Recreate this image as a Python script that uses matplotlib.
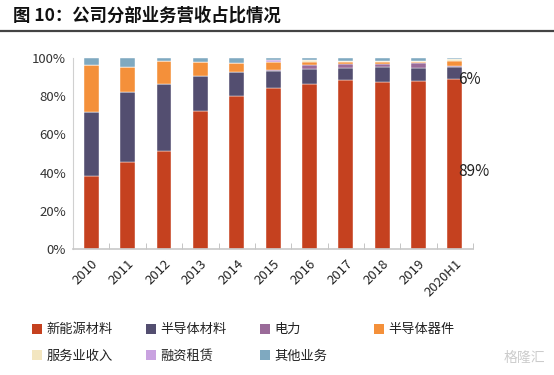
import matplotlib
matplotlib.use("Agg")
import matplotlib.pyplot as plt
import numpy as np
from matplotlib.patches import Patch
from matplotlib.lines import Line2D

plt.rcParams['font.family'] = ['Noto Sans CJK SC', 'DejaVu Sans']

years = ['2010', '2011', '2012', '2013', '2014', '2015', '2016', '2017', '2018', '2019', '2020H1']

# share of revenue by segment, in %
new_energy = [38.0, 45.5, 51.6, 72.4, 79.9, 84.6, 86.7, 88.8, 87.7, 88.1, 89.2]
semi_material = [33.7, 37.0, 34.8, 18.2, 12.6, 8.8, 7.5, 6.0, 7.6, 6.7, 6.1]
power = [0.0, 0.0, 0.0, 0.0, 0.0, 0.4, 2.4, 2.2, 1.7, 2.6, 0.5]
semi_device = [24.8, 12.8, 12.2, 7.4, 5.0, 4.2, 1.4, 0.8, 0.8, 0.6, 2.9]
service = [0.0, 0.0, 0.0, 0.0, 0.0, 0.0, 1.0, 0.6, 0.5, 0.5, 0.7]
leasing = [0.0, 0.0, 0.0, 0.0, 0.0, 1.2, 0.0, 0.0, 0.0, 0.0, 0.0]
other = [3.5, 4.7, 1.4, 2.0, 2.5, 0.8, 1.0, 1.6, 1.7, 1.5, 0.6]

series = [
    ('新能源材料', new_energy, '#C5411F'),
    ('半导体材料', semi_material, '#534E70'),
    ('电力', power, '#9A6B99'),
    ('半导体器件', semi_device, '#F4903A'),
    ('服务业收入', service, '#F3E6C0'),
    ('融资租赁', leasing, '#C9A2E0'),
    ('其他业务', other, '#7FA9C0'),
]

fig = plt.figure(figsize=(5.54, 3.75), dpi=100)
ax = fig.add_axes([0.132, 0.336, 0.722, 0.509])

x = np.arange(len(years))
bottom = np.zeros(len(years))
for name, vals, color in series:
    v = np.array(vals) / 100.0
    ax.bar(x, v, 0.41, bottom=bottom, color=color, edgecolor='white', linewidth=0.3)
    bottom += v

ax.set_xlim(-0.5, len(years) - 0.5)
ax.set_ylim(0, 1.0)
ax.set_yticks(np.arange(0, 1.01, 0.2))
ax.set_yticklabels([f'{int(round(t * 100))}%' for t in np.arange(0, 1.01, 0.2)],
                   fontsize=9.5, color='#333333')
ax.set_xticks(x)
ax.set_xticklabels(years, rotation=45, ha='right', rotation_mode='anchor',
                   fontsize=9.5, color='#222222')
ax.set_xticks(np.arange(-0.5, len(years)), minor=True)
ax.tick_params(axis='x', which='major', length=0, pad=6)
ax.tick_params(axis='x', which='minor', direction='in', length=4, color='#BBBBBB')
ax.tick_params(axis='y', direction='in', length=0, pad=5)
for s in ['top', 'right']:
    ax.spines[s].set_visible(False)
ax.spines['left'].set_color('#D0D0D0')
ax.spines['bottom'].set_color('#C8C8C8')
ax.spines['bottom'].set_linewidth(1.2)

# labels next to the last bar
ax.text(len(years) - 0.91, 0.89, f'{semi_material[-1]:.0f}%', fontsize=11,
        color='#222222', ha='left', va='center')
ax.text(len(years) - 0.91, 0.405, f'{new_energy[-1]:.0f}%', fontsize=11,
        color='#222222', ha='left', va='center')

# title and rule
fig.text(0.024, 0.958, '图 10：公司分部业务营收占比情况', fontsize=12.5,
         fontweight='bold', ha='left', va='center', color='#111111')
fig.add_artist(Line2D([0.0, 1.0], [0.917, 0.917], transform=fig.transFigure,
                      color='#444444', linewidth=1.6))

# legend, placed column by column
cols = [[0, 4], [1, 5], [2, 6], [3]]
col_x = [0.048, 0.254, 0.460, 0.666]
for cx, idxs in zip(col_x, cols):
    handles = [Patch(facecolor=series[i][2], edgecolor='none') for i in idxs]
    labels = [series[i][0] for i in idxs]
    leg = fig.legend(handles, labels, loc='upper left', bbox_to_anchor=(cx, 0.152),
                     frameon=False, fontsize=9.5, handlelength=0.75, handleheight=0.75,
                     handletextpad=0.35, labelspacing=1.0, borderaxespad=0)
    for t in leg.get_texts():
        t.set_color('#222222')

fig.text(0.985, 0.045, '格隆汇', fontsize=10, color='#CCCCCC', ha='right', va='center')

fig.savefig('out.png', dpi=100)
